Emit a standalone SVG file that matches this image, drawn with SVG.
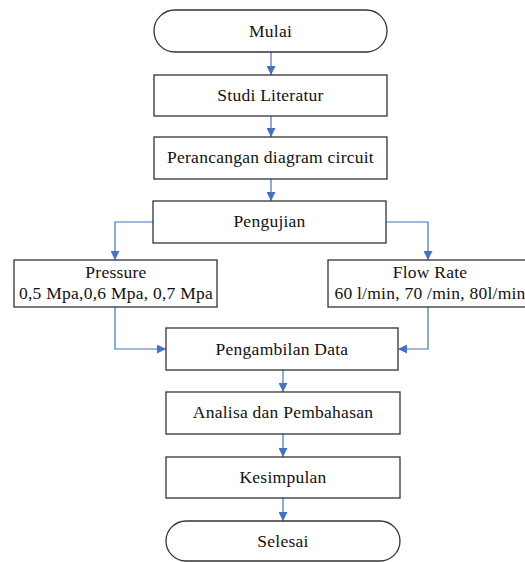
<svg xmlns="http://www.w3.org/2000/svg" width="525" height="562" viewBox="0 0 525 562">
<defs>
<style>
.box{fill:#fff;stroke:#333;stroke-width:1.3}
.t{font-family:"Liberation Serif","Times New Roman",serif;font-size:17.5px;letter-spacing:0.25px;fill:#111;text-anchor:middle}
.c{fill:none;stroke:#4472C4;stroke-width:1.2}
</style>
<marker id="ah" viewBox="0 0 10 10" refX="10" refY="5" markerWidth="9" markerHeight="9" markerUnits="userSpaceOnUse" orient="auto">
<path d="M0,0 L10,5 L0,10 z" fill="#4472C4"/>
</marker>
</defs>
<rect width="525" height="562" fill="#fff"/>
<g id="connectors">
<path class="c" d="M271,52 V75" marker-end="url(#ah)"/>
<path class="c" d="M271,116 V137" marker-end="url(#ah)"/>
<path class="c" d="M271,179 V201" marker-end="url(#ah)"/>
<path class="c" d="M153,222 H115 V260" marker-end="url(#ah)"/>
<path class="c" d="M386,222 H428 V260" marker-end="url(#ah)"/>
<path class="c" d="M115,307 V349 H166" marker-end="url(#ah)"/>
<path class="c" d="M428,307 V349 H398" marker-end="url(#ah)"/>
<path class="c" d="M283,370 V392" marker-end="url(#ah)"/>
<path class="c" d="M283,434 V457" marker-end="url(#ah)"/>
<path class="c" d="M283,498 V521" marker-end="url(#ah)"/>
</g>
<g id="mulai"><rect class="box" x="154" y="10" width="233" height="42" rx="21"/><text class="t" x="270.5" y="37">Mulai</text></g>
<g id="studi"><rect class="box" x="154" y="75" width="233" height="41"/><text class="t" x="270.5" y="101">Studi Literatur</text></g>
<g id="perancangan"><rect class="box" x="154" y="137" width="233" height="42"/><text class="t" x="270.5" y="163">Perancangan diagram circuit</text></g>
<g id="pengujian"><rect class="box" x="153" y="201" width="233" height="42"/><text class="t" x="269.5" y="227">Pengujian</text></g>
<g id="pressure"><rect class="box" x="14" y="260" width="203" height="47"/><text class="t" x="116" y="278">Pressure</text><text class="t" x="116" y="299">0,5 Mpa,0,6 Mpa, 0,7 Mpa</text></g>
<g id="flowrate"><rect class="box" x="328" y="260" width="205" height="47"/><text class="t" x="430" y="278">Flow Rate</text><text class="t" x="430" y="299">60 l/min, 70 /min, 80l/min</text></g>
<g id="pengambilan"><rect class="box" x="166" y="328" width="232" height="42"/><text class="t" x="282" y="355">Pengambilan Data</text></g>
<g id="analisa"><rect class="box" x="166" y="392" width="234" height="42"/><text class="t" x="283" y="418">Analisa dan Pembahasan</text></g>
<g id="kesimpulan"><rect class="box" x="166" y="457" width="234" height="41"/><text class="t" x="283" y="483">Kesimpulan</text></g>
<g id="selesai"><rect class="box" x="166" y="521" width="234" height="40" rx="20"/><text class="t" x="283" y="547">Selesai</text></g>
</svg>
